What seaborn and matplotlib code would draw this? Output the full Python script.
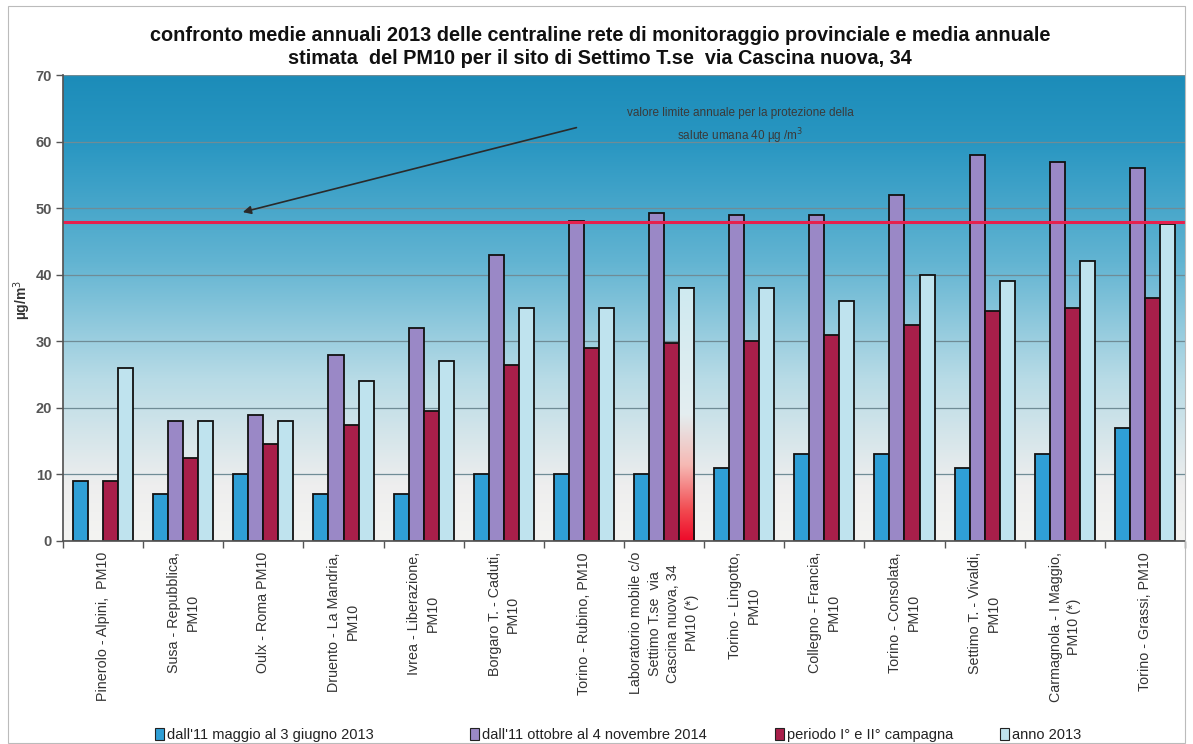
import numpy as np
import pandas as pd
import matplotlib
matplotlib.use("Agg")
import matplotlib.pyplot as plt
from matplotlib.colors import LinearSegmentedColormap
from matplotlib.patches import Patch, Rectangle
from matplotlib.ticker import FixedLocator
import seaborn as sns

sites = [
    "Pinerolo - Alpini,  PM10",
    "Susa - Repubblica,\nPM10",
    "Oulx - Roma PM10",
    "Druento - La Mandria,\nPM10",
    "Ivrea - Liberazione,\nPM10",
    "Borgaro T. - Caduti,\nPM10",
    "Torino - Rubino, PM10",
    "Laboratorio mobile c/o\nSettimo T.se  via\nCascina nuova, 34\nPM10 (*)",
    "Torino - Lingotto,\nPM10",
    "Collegno - Francia,\nPM10",
    "Torino - Consolata,\nPM10",
    "Settimo T. - Vivaldi,\nPM10",
    "Carmagnola - I Maggio,\nPM10 (*)",
    "Torino - Grassi, PM10",
]
series = [
    "dall'11 maggio al 3 giugno 2013",
    "dall'11 ottobre al 4 novembre 2014",
    "periodo I° e II° campagna",
    "anno 2013",
]
maggio_giugno_2013 = [9, 7, 10, 7, 7, 10, 10, 10, 11, 13, 13, 11, 13, 17]
ottobre_novembre_2014 = [np.nan, 18, 19, 28, 32, 43, 48, 49.2, 49, 49, 52, 58, 57, 56]
periodo_campagne = [9, 12.5, 14.5, 17.5, 19.5, 26.5, 29, 29.7, 30, 31, 32.5, 34.5, 35, 36.5]
anno_2013 = [26, 18, 18, 24, 27, 35, 35, 38, 38, 36, 40, 39, 42, 47.6]
limit_value = 47.9
limit_text = "valore limite annuale per la protezione della\nsalute umana 40 µg /m$^3$"
title = ("confronto medie annuali 2013 delle centraline rete di monitoraggio provinciale e media annuale\n"
         "stimata  del PM10 per il sito di Settimo T.se  via Cascina nuova, 34")
y_label = "µg/m$^3$"
y_ticks = [0, 10, 20, 30, 40, 50, 60, 70]

colors = ["#2f9fd6", "#9a88c6", "#a81f4a", "#bfe3ee"]

df = pd.DataFrame({
    "site": sites * 4,
    "series": sum([[s] * len(sites) for s in series], []),
    "value": maggio_giugno_2013 + ottobre_novembre_2014 + periodo_campagne + anno_2013,
})

sns.set_theme(style="white")
arial = ["Liberation Sans", "DejaVu Sans"]
plt.rcParams["font.family"] = arial

fig = plt.figure(figsize=(11.93, 7.44), dpi=100)
fig.patch.set_facecolor("white")
ax = fig.add_axes([63 / 1193, 1 - 541 / 744, (1185 - 63) / 1193, (541 - 75) / 744])

# background gradient
bg = LinearSegmentedColormap.from_list(
    "bg", [(0.0, "#f4f4f2"), (0.12, "#eeeeee"), (0.35, "#b7dbe6"),
           (0.6, "#62b4d2"), (0.85, "#2a97c2"), (1.0, "#1c8cb9")])
grad = np.linspace(0, 1, 256).reshape(-1, 1)
ax.imshow(grad, cmap=bg, origin="lower", extent=[0, 1, 0, 1], aspect="auto",
          transform=ax.transAxes, zorder=0)

sns.barplot(data=df, x="site", y="value", hue="series", hue_order=series,
            palette=colors, width=0.75, edgecolor="#111111", linewidth=1.3,
            saturation=1, ax=ax, legend=False, zorder=3)

ax.set_ylim(0, 70)
ax.set_xlim(-0.5, len(sites) - 0.5)
ax.set_yticks(y_ticks)
ax.yaxis.grid(True, color="#6f8c96", linewidth=0.9, zorder=1)
ax.set_axisbelow(True)
for gl in ax.get_ygridlines():
    gl.set_zorder(1)

# special gradient bar (laboratorio mobile, anno 2013)
special = ax.containers[3][7]
x0, y0 = special.get_x(), special.get_y()
w, h = special.get_width(), special.get_height()
sp_cmap = LinearSegmentedColormap.from_list(
    "sp", [(0.0, "#ee0a2a"), (0.12, "#f24a50"), (0.3, "#f6b9b4"),
           (0.5, "#e4eef0"), (1.0, "#cfeaf1")])
im = ax.imshow(grad, cmap=sp_cmap, origin="lower", extent=[x0, x0 + w, y0, y0 + h],
               aspect="auto", zorder=3.5)
im.set_clip_path(special)
ax.add_patch(Rectangle((x0, y0), w, h, fill=False, edgecolor="#111111",
                       linewidth=1.3, zorder=4))

# limit line and annotation
ax.axhline(limit_value, color="#e6204e", linewidth=2.2, zorder=5)
ax.annotate("", xy=(1.71, 49.3), xytext=(5.94, 62.2),
            arrowprops=dict(arrowstyle="-|>", color="#2a2a2a", lw=1.2,
                            mutation_scale=12), zorder=6)
ax.text(7.95, 62.3, limit_text, ha="center", va="center", fontsize=8.5,
        color="#3a3a3a", linespacing=1.55, zorder=6)

# axes styling
ax.set_xlabel("")
ax.set_ylabel("")
for s in ["top", "right"]:
    ax.spines[s].set_visible(False)
ax.spines["left"].set_color("#555555")
ax.spines["bottom"].set_color("#555555")
ax.spines["left"].set_zorder(7)
ax.spines["bottom"].set_zorder(7)
ax.tick_params(axis="y", which="major", length=5, width=1, color="#555555",
               labelsize=10.5, labelcolor="#555555", direction="out", left=True, pad=3)
for t in ax.get_yticklabels():
    t.set_fontweight("bold")
ax.tick_params(axis="x", which="major", length=0, pad=8)
ax.xaxis.set_minor_locator(FixedLocator(np.arange(-0.5, len(sites), 1.0)))
ax.tick_params(axis="x", which="minor", length=5, width=1, color="#555555",
               direction="out", bottom=True)
ax.set_xticks(range(len(sites)))
ax.set_xticklabels(sites, rotation=90, ha="center", va="top",
                   multialignment="center", fontsize=10.3, color="#333333",
                   linespacing=1.4)

fig.text(22 / 1193, 1 - 300 / 744, y_label, rotation=90, ha="center", va="center",
         fontsize=10, fontweight="bold", color="#333333")

fig.text(0.503, 1 - 47 / 744, title, ha="center", va="center", fontsize=14.3,
         fontweight="bold", color="#111111", linespacing=1.3)

legend_x = [155, 470, 775, 1000]
for c, lab, lx in zip(colors, series, legend_x):
    leg = fig.legend([Patch(facecolor=c, edgecolor="#222222", linewidth=0.8)], [lab],
                     loc="center left", bbox_to_anchor=(lx / 1193, 1 - 735 / 744),
                     frameon=False, handlelength=0.6, handleheight=0.8,
                     handletextpad=0.25, borderaxespad=0, borderpad=0,
                     prop={"size": 10.5})
    for t in leg.get_texts():
        t.set_color("#222222")

fig.patches.append(Rectangle((8 / 1193, 0.002), 1 - 16 / 1193, 0.99, transform=fig.transFigure,
                             fill=False, edgecolor="#bbbbbb", linewidth=0.8))

fig.savefig("out.png", dpi=100)
